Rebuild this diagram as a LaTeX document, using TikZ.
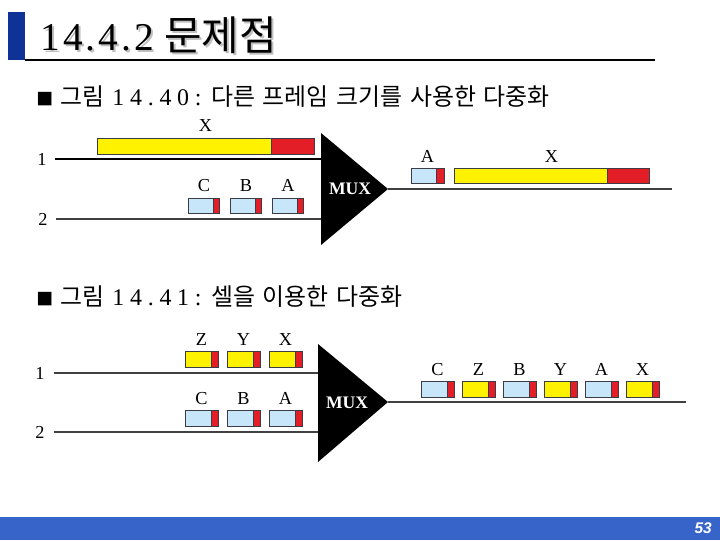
\documentclass[tikz,border=0pt]{standalone}
\usepackage{fontspec}
\usepackage{xcolor}
\usepackage{tikz}
\usetikzlibrary{positioning}
\setmainfont{Liberation Serif}
\newfontfamily\kr{Noto Sans CJK KR}
\newfontfamily\sertitle[LetterSpace=8]{Liberation Serif}
\newfontfamily\serwide[LetterSpace=24]{Liberation Serif}
\newfontfamily\pagefont{Liberation Sans}
\newcommand{\blt}{{\kr\fontsize{12}{14}\selectfont ■}}
\newcommand{\capfont}{\fontsize{17}{20}\selectfont\spaceskip 0.32em\relax}

\definecolor{cellblue}{RGB}{200,230,250}
\definecolor{cellred}{RGB}{228,30,38}
\definecolor{cellyellow}{RGB}{255,242,0}
\definecolor{cellframe}{RGB}{60,60,70}
\definecolor{barblue}{RGB}{15,50,150}
\definecolor{footblue}{RGB}{55,100,200}

\begin{document}
\begin{tikzpicture}[x=0.025cm, y=-0.025cm,
    cell/.style={draw=cellframe, line width=0.6pt, inner sep=0pt, minimum width=0.8cm, minimum height=0.38cm},
    tail/.style={path picture={
        \fill[cellred] ([xshift=-#1]path picture bounding box.north east) rectangle (path picture bounding box.south east);
        \draw[cellframe, line width=0.6pt] ([xshift=-#1]path picture bounding box.north east) -- ([xshift=-#1]path picture bounding box.south east);}},
    bcell/.style={cell, fill=cellblue, tail=0.17cm},
    ycell/.style={cell, fill=cellyellow, tail=0.17cm},
    lbl/.style={font=\fontsize{13}{15}\selectfont, inner sep=0pt},
    muxtext/.style={text=white, font=\fontsize{12.5}{14}\selectfont\bfseries, inner sep=0pt},
    title/.style={anchor=base west, inner sep=0pt, font=\fontsize{28}{32}\selectfont},
    caption/.style={anchor=base west, inner sep=0pt, font=\capfont},
    link/.style={draw=black!75, line width=0.9pt}]
    \useasboundingbox (0,0) rectangle (720,540);

    % heading
    \fill[barblue] (8,12) rectangle (25,60);
    \node (tshadow) [title, text=black!25] at (42,52) {{\sertitle 14.4.2} {\kr\fontsize{29}{32}\selectfont 문제점}};
    \node (title) [title] at (40,50) {{\sertitle 14.4.2} {\kr\fontsize{29}{32}\selectfont 문제점}};
    \coordinate (rulea) at (25,60);
    \coordinate (ruleb) at (655,60);
    \draw[line width=0.8pt] (rulea) -- (ruleb);

    \node (cap1) [caption] at (36,105) {\blt\ {\kr 그림} {\serwide 14.40:} {\kr 다른 프레임 크기를 사용한 다중화}};
    \node (cap2) [caption] at (36,305) {\blt\ {\kr 그림} {\serwide 14.41:} {\kr 셀을 이용한 다중화}};

    % figure 14.40
    \node (one1) [lbl] at (42,159) {1};
    \node (two1) [lbl] at (43,219) {2};
    \coordinate (m1t) at (321,133);
    \coordinate (m1b) at (321,245);
    \coordinate (m1a) at (388,189);
    \coordinate (o1end) at (672,189);
    \fill (m1t) -- (m1a) -- (m1b) -- cycle;
    \node (mux1) [muxtext] at (350,189) {MUX};

    \draw[link, draw=black, line width=1.4pt, shorten <=0.2cm] (one1.east) -- (one1 -| m1t);
    \draw[link, shorten <=0.2cm] (two1.east) -- (two1 -| m1t);
    \draw[link] (m1a) -- (o1end);

    \node (x1) [cell, fill=cellyellow, tail=1.075cm, minimum width=5.425cm, minimum height=0.4cm] at (205.5,146) {};
    \node (lx1) [lbl, above of=x1, node distance=0.5cm] {X};
    \node (c1) [bcell, minimum width=0.775cm, minimum height=0.375cm, tail=0.15cm] at (204,205.5) {};
    \node (b1) [bcell, minimum width=0.775cm, minimum height=0.375cm, tail=0.15cm, right of=c1, node distance=1.05cm] {};
    \node (a1) [bcell, minimum width=0.775cm, minimum height=0.375cm, tail=0.15cm, right of=b1, node distance=1.05cm] {};
    \node (lc1) [lbl, above of=c1, node distance=0.5cm] {C};
    \node (lb1) [lbl, above of=b1, node distance=0.5cm] {B};
    \node (la1) [lbl, above of=a1, node distance=0.5cm] {A};

    \node (ao1) [bcell, minimum width=0.825cm, minimum height=0.375cm, tail=0.2cm] at (427.5,175.5) {};
    \node (xo1) [cell, fill=cellyellow, tail=1.05cm, minimum width=4.875cm, minimum height=0.375cm] at (551.5,175.5) {};
    \node (lao1) [lbl, above of=ao1, node distance=0.48cm] {A};
    \node (lxo1) [lbl, above of=xo1, node distance=0.48cm] {X};

    % figure 14.41
    \node (one2) [lbl] at (40,373) {1};
    \node (two2) [lbl] at (40,432) {2};
    \coordinate (m2t) at (318,344);
    \coordinate (m2b) at (318,462);
    \coordinate (m2a) at (388,402);
    \coordinate (o2end) at (686,402);
    \fill (m2t) -- (m2a) -- (m2b) -- cycle;
    \node (mux2) [muxtext] at (347,403) {MUX};

    \draw[link, shorten <=0.22cm] (one2.east) -- (one2 -| m2t);
    \draw[link, shorten <=0.22cm] (two2.east) -- (two2 -| m2t);
    \draw[link] (m2a) -- (o2end);

    \node (z2) [ycell, minimum width=0.825cm, minimum height=0.4cm] at (201.5,359.5) {};
    \node (y2) [ycell, minimum width=0.825cm, minimum height=0.4cm, right of=z2, node distance=1.05cm] {};
    \node (x2) [ycell, minimum width=0.825cm, minimum height=0.4cm, right of=y2, node distance=1.05cm] {};
    \node (lz2) [lbl, above of=z2, node distance=0.5cm] {Z};
    \node (ly2) [lbl, above of=y2, node distance=0.5cm] {Y};
    \node (lx2) [lbl, above of=x2, node distance=0.5cm] {X};

    \node (c2) [bcell, minimum width=0.825cm, minimum height=0.4cm] at (201.5,418.5) {};
    \node (b2) [bcell, minimum width=0.825cm, minimum height=0.4cm, right of=c2, node distance=1.05cm] {};
    \node (a2) [bcell, minimum width=0.825cm, minimum height=0.4cm, right of=b2, node distance=1.05cm] {};
    \node (lc2) [lbl, above of=c2, node distance=0.5cm] {C};
    \node (lb2) [lbl, above of=b2, node distance=0.5cm] {B};
    \node (la2) [lbl, above of=a2, node distance=0.5cm] {A};

    \node (co2) [bcell, minimum width=0.825cm, minimum height=0.4cm] at (437.5,389) {};
    \node (zo2) [ycell, minimum width=0.825cm, minimum height=0.4cm, right of=co2, node distance=1.025cm] {};
    \node (bo2) [bcell, minimum width=0.825cm, minimum height=0.4cm, right of=zo2, node distance=1.025cm] {};
    \node (yo2) [ycell, minimum width=0.825cm, minimum height=0.4cm, right of=bo2, node distance=1.025cm] {};
    \node (ao2) [bcell, minimum width=0.825cm, minimum height=0.4cm, right of=yo2, node distance=1.025cm] {};
    \node (xo2) [ycell, minimum width=0.825cm, minimum height=0.4cm, right of=ao2, node distance=1.025cm] {};
    \node (lco2) [lbl, above of=co2, node distance=0.49cm] {C};
    \node (lzo2) [lbl, above of=zo2, node distance=0.49cm] {Z};
    \node (lbo2) [lbl, above of=bo2, node distance=0.49cm] {B};
    \node (lyo2) [lbl, above of=yo2, node distance=0.49cm] {Y};
    \node (lao2) [lbl, above of=ao2, node distance=0.49cm] {A};
    \node (lxo2) [lbl, above of=xo2, node distance=0.49cm] {X};

    % footer
    \fill[footblue] (0,517) rectangle (720,540);
    \node (page) [anchor=east, text=white, inner sep=0pt, font=\pagefont\fontsize{11}{13}\selectfont\bfseries\itshape] at (712,528) {53};
\end{tikzpicture}
\end{document}
